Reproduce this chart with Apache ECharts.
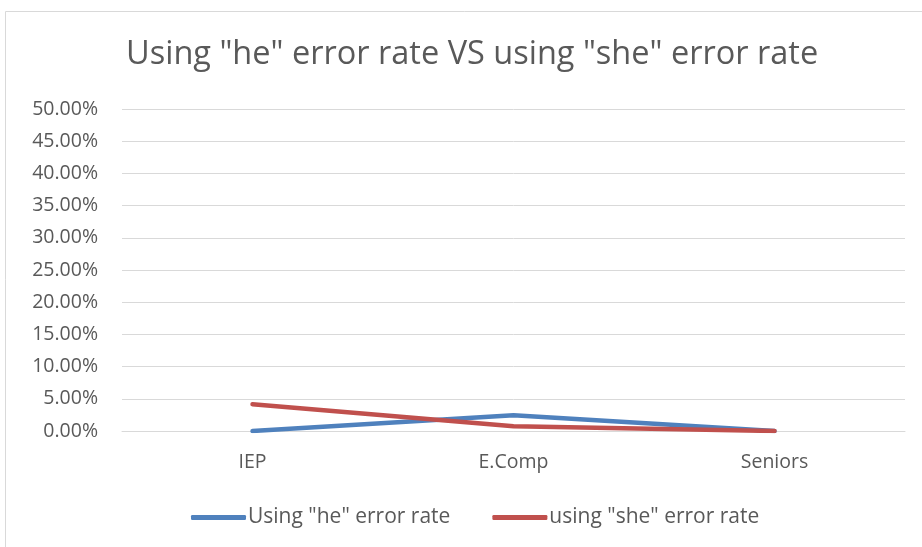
<!DOCTYPE html>
<html>
<head>
<meta charset="utf-8">
<script src="https://cdn.jsdelivr.net/npm/echarts@6/dist/echarts.min.js"></script>
<style>
  html, body { margin: 0; padding: 0; background: #fff; }
  #chart { width: 922px; height: 547px; }
</style>
</head>
<body>
<div id="chart"></div>
<script>
// categories and error rates (in %)
var groups = ['IEP', 'E.Comp', 'Seniors'];
var heRate = [0, 2.45, 0];
var sheRate = [4.15, 0.75, 0];
var seriesNames = ['Using "he" error rate', 'using "she" error rate'];

var myChart = echarts.init(document.getElementById('chart'));
var font = 'Open Sans';
var options = {
    animation: false,
    // outer chart border
    graphic: [{
        type: 'rect',
        shape: { x: 5.5, y: 11.5, width: 940, height: 580 },
        style: { fill: 'none', stroke: '#d9d9d9', lineWidth: 1 }
    }],
    title: {
        text: 'Using "he" error rate VS using "she" error rate',
        left: 121,
        top: 33,
        textStyle: { fontFamily: font, fontSize: 32.5, fontWeight: 'normal', color: '#595959' }
    },
    legend: {
        bottom: 14,
        left: 186,
        itemWidth: 55,
        itemHeight: 5,
        itemGap: 42,
        icon: 'roundRect',
        textStyle: { fontFamily: font, fontSize: 21, color: '#595959', padding: [0, 0, 0, -3] },
        data: seriesNames
    },
    grid: { left: 122, right: 17, top: 109, bottom: 116 },
    xAxis: {
        type: 'category',
        data: groups,
        boundaryGap: true,
        axisLine: { lineStyle: { color: '#d9d9d9' } },
        axisTick: { show: false },
        axisLabel: { fontFamily: font, fontSize: 19.5, color: '#595959', margin: 21 }
    },
    yAxis: {
        type: 'value',
        min: 0,
        max: 50,
        interval: 5,
        axisLine: { show: false },
        axisTick: { show: false },
        splitLine: { lineStyle: { color: '#d9d9d9', width: 1 } },
        axisLabel: {
            fontFamily: font, fontSize: 19.5, color: '#595959', margin: 24,
            formatter: function (v) { return v.toFixed(2) + '%'; }
        }
    },
    series: [{
        name: seriesNames[0],
        type: 'line',
        data: heRate,
        symbol: 'none',
        lineStyle: { width: 4.5, color: '#4f81bd', cap: 'round' },
        itemStyle: { color: '#4f81bd' }
    }, {
        name: seriesNames[1],
        type: 'line',
        data: sheRate,
        symbol: 'none',
        lineStyle: { width: 4.5, color: '#c0504d', cap: 'round' },
        itemStyle: { color: '#c0504d' }
    }]
};
myChart.setOption(options, true);
</script>
</body>
</html>
